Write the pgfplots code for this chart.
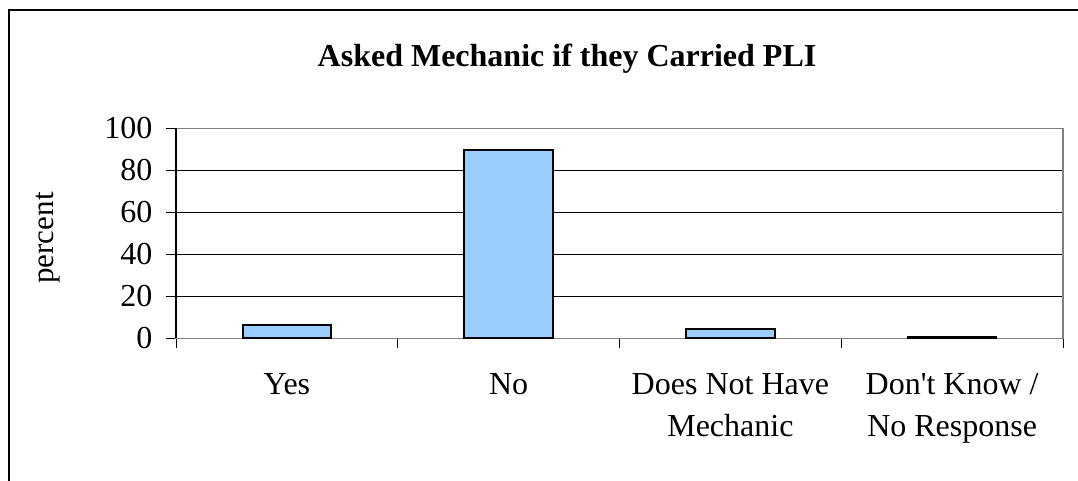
\documentclass[border=0pt]{standalone}
\usepackage{fontspec}
\setmainfont{Liberation Serif}
\usepackage{pgfplots}
\pgfplotsset{compat=1.18}
\definecolor{barblue}{HTML}{99CCFF}
\definecolor{framegray}{HTML}{808080}
\begin{document}
\begin{tikzpicture}[x=1pt,y=1pt]
\useasboundingbox (0,0) rectangle (1078,480);
\draw[black, line width=1.5pt] (9,-20) -- (9,470) -- (1100,470);
\begin{axis}[
  at={(176pt,141.7pt)}, anchor=south west,
  scale only axis, width=887pt, height=210pt,
  xmin=-0.5, xmax=3.5, ymin=0, ymax=100,
  xtick={0,1,2,3},
  xticklabels={Yes, No, {Does Not Have\\Mechanic}, {Don\textquotesingle t Know /\\No Response}},
  xticklabel style={align=center, font=\fontsize{32}{42}\selectfont, yshift=-22pt},
  major x tick style={draw=none},
  minor xtick={-0.5,0.5,1.5,2.5,3.5},
  ytick={0,20,40,60,80,100},
  yticklabel style={font=\fontsize{32}{38}\selectfont, xshift=-10pt},
  /pgf/number format/assume math mode=true,
  tick align=outside,
  xtick pos=lower, ytick pos=lower,
  major tick length=10pt, minor tick length=10pt,
  every tick/.style={black, line width=1pt},
  ymajorgrids, grid style={black, line width=1pt},
  axis line style={draw=framegray, line width=1.5pt},
  clip=false,
]
\addplot[ybar, bar width=0.4, fill=barblue, draw=black, line width=2pt]
  coordinates {(0,6.4) (1,89.7) (2,4.3) (3,0.5)};
\draw[black, line width=1.2pt] (axis cs:-0.5,0) -- (axis cs:-0.5,100);
\end{axis}
\node[rotate=90, font=\fontsize{31}{36}\selectfont] at (48,242) {percent};
\node[anchor=base, font=\bfseries\fontsize{32}{38}\selectfont] at (567,413.3) {Asked Mechanic if they Carried PLI};
\end{tikzpicture}
\end{document}
